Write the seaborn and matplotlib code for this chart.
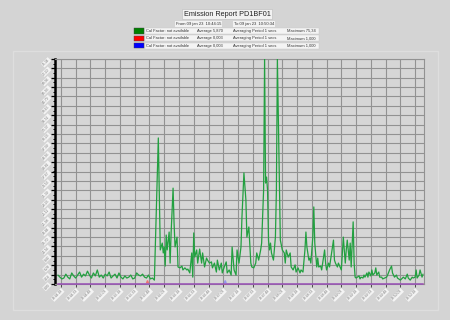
import matplotlib
matplotlib.use("Agg")
import matplotlib.pyplot as plt
import matplotlib.patches as patches
from matplotlib.ticker import AutoMinorLocator
import seaborn as sns
import pandas as pd

# ---------------- data ----------------
title = "Emission Report PD1BF01"
period_from = "From 09 jan 23  10:44:15"
period_to = "To 09 jan 23  10:50:34"

legend_labels = [
    ["Cal Factor: not available", "Average 5,870", "Averaging Period 1 secs", "Maximum 75,34"],
    ["Cal Factor: not available", "Average 0,003", "Averaging Period 1 secs", "Maximum 1,000"],
    ["Cal Factor: not available", "Average 0,003", "Averaging Period 1 secs", "Maximum 1,000"],
]
series_colors = ["#008000", "#ff0000", "#0000ff"]

# seconds since 10:44:15
green_t = [0, 2, 4, 6, 8, 10, 12, 14, 16, 18, 20, 22, 24, 26, 28, 30, 32, 34, 36, 38,
           40, 42, 44, 46, 48, 50, 52, 54, 56, 58, 60, 62, 64, 66, 68, 70, 72, 74, 76, 78,
           80, 82, 84, 86, 88, 90, 92, 94, 96, 98,
           102, 104, 106, 107, 108, 109, 110, 111, 113, 114, 115, 117, 118, 119, 121, 122,
           124, 126, 127, 129, 131, 132, 134, 136, 137, 138, 139, 141, 142, 144, 146, 147,
           149, 151, 152, 154, 156, 157, 159, 161, 162, 164, 166, 167, 169, 171, 172, 174,
           176, 177, 179, 181, 182, 184, 186, 187, 189, 191, 192, 194, 196, 197, 199, 201,
           202, 204, 206, 207, 209, 210, 211, 212, 213, 214, 215, 216, 217, 219, 221, 222,
           223, 225, 226, 228, 230, 231, 232, 234, 236, 237, 239, 241, 242, 244, 246, 247,
           249, 251, 252, 253, 255, 256, 257, 259, 260, 261, 263, 264, 265, 267, 268, 269,
           271, 272, 273, 275, 276, 277, 280, 281, 282, 284, 285, 288, 289, 290, 292, 293,
           294, 296, 297, 298, 300, 301, 302, 303,
           306, 307, 308, 310, 311, 312, 314, 315, 316, 318, 319, 320, 322, 323, 324, 326,
           327, 329, 330, 332, 334, 335, 337, 339, 340, 342, 344, 345, 348, 350, 351, 353,
           355, 356, 358, 360, 361, 363, 364, 365, 367, 368, 370, 371]
green_v = [3.0, 2.3, 1.7, 2.0, 3.3, 2.3, 1.7, 3.7, 2.7, 2.0, 3.0, 4.0, 2.3, 3.3, 2.7, 4.3, 3.0, 2.0, 3.7, 2.7,
           4.7, 2.3, 3.0, 2.0, 3.3, 2.7, 4.0, 2.0, 2.7, 3.3, 2.0, 3.7, 2.3, 1.7, 2.7, 2.0, 2.3, 3.0, 1.7, 2.0,
           3.7, 3.0, 2.7, 3.3, 2.3, 2.0, 3.0, 1.7, 2.0, 1.3,
           48.9, 11.4, 13.7, 10.4, 12.4, 6.0, 16.4, 11.4, 17.4, 7.0, 17.1, 32.1, 20.4, 12.4, 15.7, 5.7,
           5.4, 6.0, 4.7, 5.4, 4.7, 5.0, 3.7, 10.4, 2.3, 17.1, 9.0, 11.4, 7.0, 11.7, 7.0, 10.4,
           5.7, 8.7, 8.0, 7.0, 7.4, 5.4, 7.0, 4.0, 8.0, 4.7, 7.0, 3.7, 5.7, 7.4, 3.7, 4.7,
           3.0, 12.4, 4.7, 3.0, 11.4, 7.0, 12.4, 22.4, 37.2, 28.1, 15.7, 19.1, 7.0, 5.7, 5.4, 7.0,
           10.4, 8.0, 11.4, 13.7, 31.5, 75.34, 33.8, 35.8, 31.5, 14.7, 11.4, 13.7, 10.4, 8.0, 15.7, 31.5,
           75.34, 33.8, 14.7, 11.4, 10.4, 7.0, 11.4, 9.0, 10.4, 5.7, 4.7, 6.4, 4.0, 5.4, 3.7, 4.7,
           4.0, 11.4, 17.4, 12.4, 8.0, 8.7, 7.0, 15.7, 25.8, 13.7, 5.7, 8.7, 5.7, 6.0, 4.7, 7.0,
           11.4, 7.0, 4.7, 7.0, 5.7, 8.0, 14.7, 8.0, 7.0, 5.7, 7.0, 4.7, 10.4, 15.7, 7.0, 11.4,
           14.7, 8.0, 13.7, 5.7, 20.8, 7.0, 2.3, 2.0,
           2.7, 1.7, 2.3, 2.0, 3.0, 2.3, 3.7, 2.3, 4.0, 2.7, 4.7, 3.0, 3.7, 5.4, 3.0, 4.0,
           2.3, 2.3, 1.7, 2.0, 2.3, 3.0, 4.7, 6.0, 3.7, 2.3, 3.0, 2.0, 1.3, 2.0, 2.3, 1.7,
           3.3, 2.0, 1.3, 2.3, 2.0, 2.3, 4.7, 2.0, 3.0, 4.7, 2.3, 3.3]

red_t = [0, 90, 91, 92, 371]
red_v = [0.0, 0.0, 1.0, 0.0, 0.0]
blue_t = [0, 169, 170, 171, 371]
blue_v = [0.0, 0.0, 1.0, 0.0, 0.0]

x_tick_t = [3, 18, 33, 48, 63, 78, 93, 108, 123, 138, 153, 168, 183, 198, 213, 228,
            243, 258, 273, 288, 303, 318, 333, 348, 363]
x_tick_labels = ["10:44:18", "10:44:33", "10:44:48", "10:45:03", "10:45:18", "10:45:33",
                 "10:45:48", "10:46:03", "10:46:18", "10:46:33", "10:46:48", "10:47:03",
                 "10:47:18", "10:47:33", "10:47:48", "10:48:03", "10:48:18", "10:48:33",
                 "10:48:48", "10:49:03", "10:49:18", "10:49:33", "10:49:48", "10:50:03",
                 "10:50:18"]
y_ticks = [0.00, 3.14, 6.28, 9.42, 12.56, 15.70, 18.84, 21.98, 25.11, 28.25, 31.39, 34.53,
           37.67, 40.81, 43.95, 47.09, 50.23, 53.37, 56.51, 59.65, 62.79, 65.93, 69.06,
           72.20, 75.34]

# ---------------- figure ----------------
sns.set_style("white")
plt.rcParams["font.family"] = ["Liberation Sans", "DejaVu Sans"]

W, H = 450, 320
fig = plt.figure(figsize=(W / 100, H / 100), dpi=100, facecolor="#d4d4d4")

def fx(px):
    return px / W

def fy(py):
    return 1 - py / H

# outer panel
fig.patches.append(patches.Rectangle((fx(13), fy(310)), fx(438) - fx(13), fy(51) - fy(310),
                                     transform=fig.transFigure, fill=False,
                                     edgecolor="#dedede", lw=1.0))

ax = fig.add_axes([fx(55), fy(284), fx(424) - fx(55), fy(59) - fy(284)])
ax.set_facecolor("#d6d6d6")

green_df = pd.DataFrame({"t": green_t, "v": green_v})
red_df = pd.DataFrame({"t": red_t, "v": red_v})
blue_df = pd.DataFrame({"t": blue_t, "v": blue_v})

sns.lineplot(data=green_df, x="t", y="v", ax=ax, color="#22a040", lw=0.9, zorder=3)
sns.lineplot(data=red_df, x="t", y="v", ax=ax, color="#ff3030", lw=1.3, alpha=0.6, zorder=4, clip_on=False)
sns.lineplot(data=blue_df, x="t", y="v", ax=ax, color="#6060ff", lw=1.3, alpha=0.55, zorder=5, clip_on=False)

ax.set_xlim(-3, 372)
ax.set_ylim(0, 75.34)
ax.set_xticks(x_tick_t)
ax.set_xticklabels(x_tick_labels, rotation=45, ha="right", rotation_mode="anchor",
                   fontsize=2.4, color="#777777")
ax.set_yticks(y_ticks)
ax.set_yticklabels([f"{v:.2f}".replace(".", ",") for v in y_ticks], rotation=45,
                   ha="right", rotation_mode="anchor", fontsize=2.4, color="#777777")
for lab in ax.get_xticklabels() + ax.get_yticklabels():
    lab.set_bbox(dict(facecolor="#f4f4f4", edgecolor="none", pad=0.4))
ax.set_xlabel("")
ax.set_ylabel("")

ax.yaxis.set_minor_locator(AutoMinorLocator(2))
ax.tick_params(axis="y", which="major", length=3, width=0.9, color="black", pad=1.5, left=True)
ax.tick_params(axis="y", which="minor", length=1.8, width=0.7, color="black", left=True)
ax.tick_params(axis="x", which="major", length=2, width=0.6, color="#333333", pad=1.5, bottom=True)

ax.grid(True, which="major", color="#929292", lw=0.8)
ax.set_axisbelow(True)
ax.spines["left"].set_color("black")
ax.spines["left"].set_linewidth(1.8)
for s in ["top", "right", "bottom"]:
    ax.spines[s].set_color("#929292")
    ax.spines[s].set_linewidth(0.8)

# title
fig.text(fx(227), fy(14), title, ha="center", va="center", fontsize=5.2, color="#222222",
         bbox=dict(facecolor="#f2f2f2", edgecolor="#bbbbbb", lw=0.4, pad=1.2))
fig.text(fx(176), fy(24), period_from, ha="left", va="center", fontsize=3.0, color="#333333",
         bbox=dict(facecolor="#f2f2f2", edgecolor="none", pad=0.6))
fig.text(fx(234), fy(24), period_to, ha="left", va="center", fontsize=3.0, color="#333333",
         bbox=dict(facecolor="#f2f2f2", edgecolor="none", pad=0.6))

# legend rows
row_y = [31, 38.3, 45.6]
col_x = [146, 197, 233, 287]
for r, (yy, col) in enumerate(zip(row_y, series_colors)):
    fig.patches.append(patches.Rectangle((fx(133.5), fy(yy + 2.8)), fx(144) - fx(133.5),
                                         fy(yy - 2.8) - fy(yy + 2.8),
                                         transform=fig.transFigure, facecolor=col,
                                         edgecolor="#444444", lw=0.3))
    fig.patches.append(patches.Rectangle((fx(145), fy(yy + 3.0)), fx(319) - fx(145),
                                         fy(yy - 3.0) - fy(yy + 3.0),
                                         transform=fig.transFigure, facecolor="#f4f4f4",
                                         edgecolor="#c8c8c8", lw=0.3))
    for cx, txt in zip(col_x, legend_labels[r]):
        fig.text(fx(cx), fy(yy), txt, ha="left", va="center", fontsize=2.9, color="#333333")

fig.savefig("out.png", dpi=100, facecolor=fig.get_facecolor())
